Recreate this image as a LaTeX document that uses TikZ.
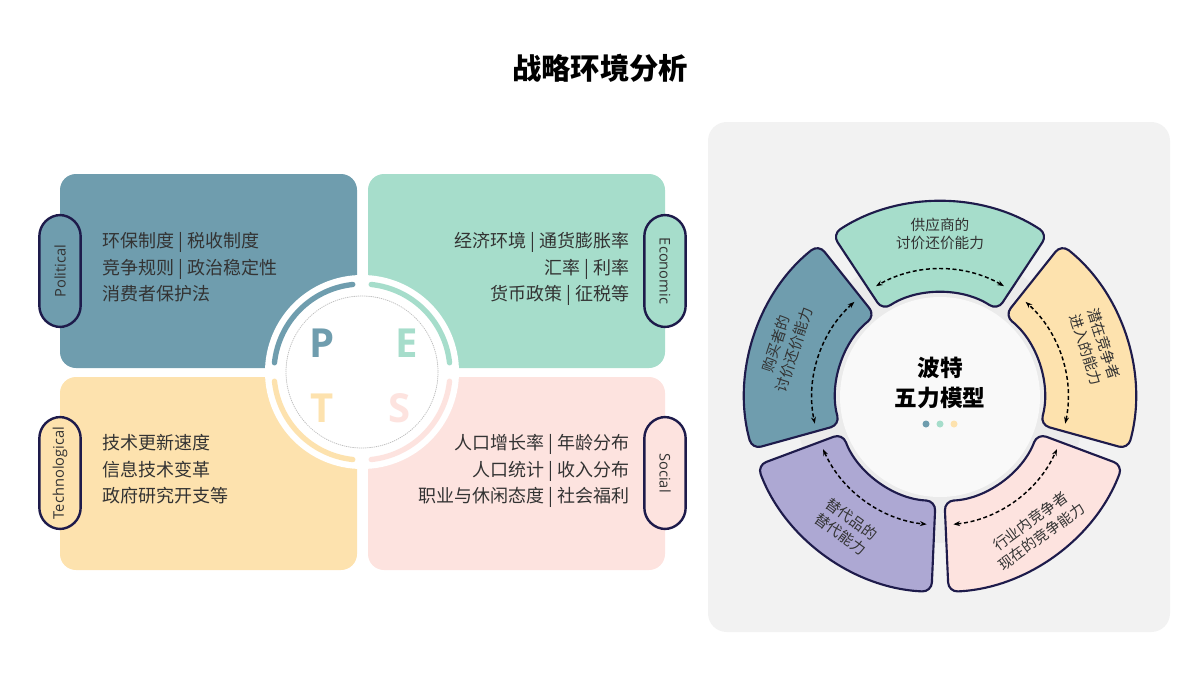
\documentclass[tikz,border=0pt]{standalone}
\usepackage{fontspec}
\setmainfont{Noto Sans CJK SC}
\newfontfamily\latf{Open Sans}
\usetikzlibrary{arrows.meta}
\definecolor{cP}{HTML}{6F9DAE}
\definecolor{cE}{HTML}{A6DDCB}
\definecolor{cT}{HTML}{FDE2AE}
\definecolor{cS}{HTML}{FDE3DF}
\definecolor{cV}{HTML}{ADA8D3}
\definecolor{navy}{HTML}{1E1B4B}
\definecolor{txt}{HTML}{333333}
\tikzset{
  quad/.style={rounded corners=12pt,draw=none},
  pill/.style={draw=navy,line width=1.8pt,rounded corners=16pt,minimum width=31pt,minimum height=84pt,inner sep=0pt},
  pilltxt/.style={font=\latf\fontsize{11}{13}\selectfont,text=txt},
  qtxt/.style={font=\fontsize{13.5}{20}\selectfont,text=txt,inner sep=0pt},
  letter/.style={font=\latf\bfseries\fontsize{30}{32}\selectfont},
  seg/.style={draw=navy,line width=1.6pt,rounded corners=7pt},
  stxt/.style={font=\fontsize{11}{14}\selectfont,text=txt,align=center},
  darr/.style={densely dashed,line width=1.1pt,{Stealth[length=5pt]}-{Stealth[length=5pt]}}
}
\begin{document}
\begin{tikzpicture}[x=0.75pt,y=-0.75pt]
\useasboundingbox (0,0) rectangle (1200,675);
\node (title) at (600,68) {\bfseries\fontsize{22}{26}\selectfont 战略环境分析};
% PEST quadrants
\fill[cP,quad] (60,174) rectangle (357,368);
\fill[cE,quad] (368,174) rectangle (665,368);
\fill[cT,quad] (60,377) rectangle (357,570);
\fill[cS,quad] (368,377) rectangle (665,570);
\fill[white] (362,372) circle[radius=97];
\begin{scope}[shift={(362,372)},line width=4pt,line cap=round]
\draw[cP] (-174:88) arc[start angle=-174,end angle=-96,radius=88];
\draw[cE] (-84:88) arc[start angle=-84,end angle=-6,radius=88];
\draw[cS] (6:88) arc[start angle=6,end angle=84,radius=88];
\draw[cT] (96:88) arc[start angle=96,end angle=174,radius=88];
\draw[gray!50,densely dotted,line width=0.6pt] (0,0) circle[radius=76];
\end{scope}
\node[letter,text=cP] (lP) at (322,343) {P};
\node[letter,text=cE] (lE) at (407,343) {E};
\node[letter,text=cT] (lT) at (322,408) {T};
\node[letter,text=cS] (lS) at (400,408) {S};
% pills
\node[pill,fill=cP] (pP) at (60,271) {}; \node[pilltxt,rotate=90] at (pP) {Political};
\node[pill,fill=cE] (pE) at (665,271) {}; \node[pilltxt,rotate=-90] at (pE) {Economic};
\node[pill,fill=cT] (pT) at (60,473) {}; \node[pilltxt,rotate=90] at (pT) {Technological};
\node[pill,fill=cS] (pS) at (665,473) {}; \node[pilltxt,rotate=-90] at (pS) {Social};
% texts
\node[qtxt,align=left,anchor=north west] (tP) at (102,232) {环保制度 | 税收制度\\竞争规则 | 政治稳定性\\消费者保护法};
\node[qtxt,align=right,anchor=north east] (tE) at (630,232) {经济环境 | 通货膨胀率\\汇率 | 利率\\货币政策 | 征税等};
\node[qtxt,align=left,anchor=north west] (tT) at (102,434) {技术更新速度\\信息技术变革\\政府研究开支等};
\node[qtxt,align=right,anchor=north east] (tS) at (630,434) {人口增长率 | 年龄分布\\人口统计 | 收入分布\\职业与休闲态度 | 社会福利};
% right panel
\fill[gray!10,rounded corners=14pt] (708,122) rectangle (1170,632);
\begin{scope}[shift={(940,397)}]
\fill[gray!16] (0,0) circle[radius=146];
\fill[gray!5] (0,0) circle[radius=100];
\foreach \c/\col in {90/cE,18/cT,-54/cS,234/cV,162/cP}{
  \pgfmathsetmacro{\a}{-(\c-33.5)}\pgfmathsetmacro{\b}{-(\c+33.5)}
  \draw[seg,fill=\col] (\a:195) arc[start angle=\a,end angle=\b,radius=195] -- (\b:104) arc[start angle=\b,end angle=\a,radius=104] -- cycle;
  \pgfmathsetmacro{\p}{-(\c-30)}\pgfmathsetmacro{\q}{-(\c+30)}
  \draw[darr] (\p:128) arc[start angle=\p,end angle=\q,radius=128];
}
\node[stxt] (f1) at (-90:163) {供应商的\\讨价还价能力};
\node[stxt,rotate=-72] (f2) at (-18:163) {潜在竞争者\\进入的能力};
\node[stxt,rotate=36] (f3) at (54:163) {行业内竞争者\\现在的竞争能力};
\node[stxt,rotate=-36] (f4) at (126:160) {替代品的\\替代能力};
\node[stxt,rotate=72] (f5) at (198:163) {购买者的\\讨价还价能力};
\node[align=center,font=\bfseries\fontsize{17}{22}\selectfont] (ctr) at (0,-14) {波特\\五力模型};
\fill[cP] (-14,27) circle[radius=3.5];
\fill[cE] (0,27) circle[radius=3.5];
\fill[cT] (14,27) circle[radius=3.5];
\end{scope}
\end{tikzpicture}
\end{document}
